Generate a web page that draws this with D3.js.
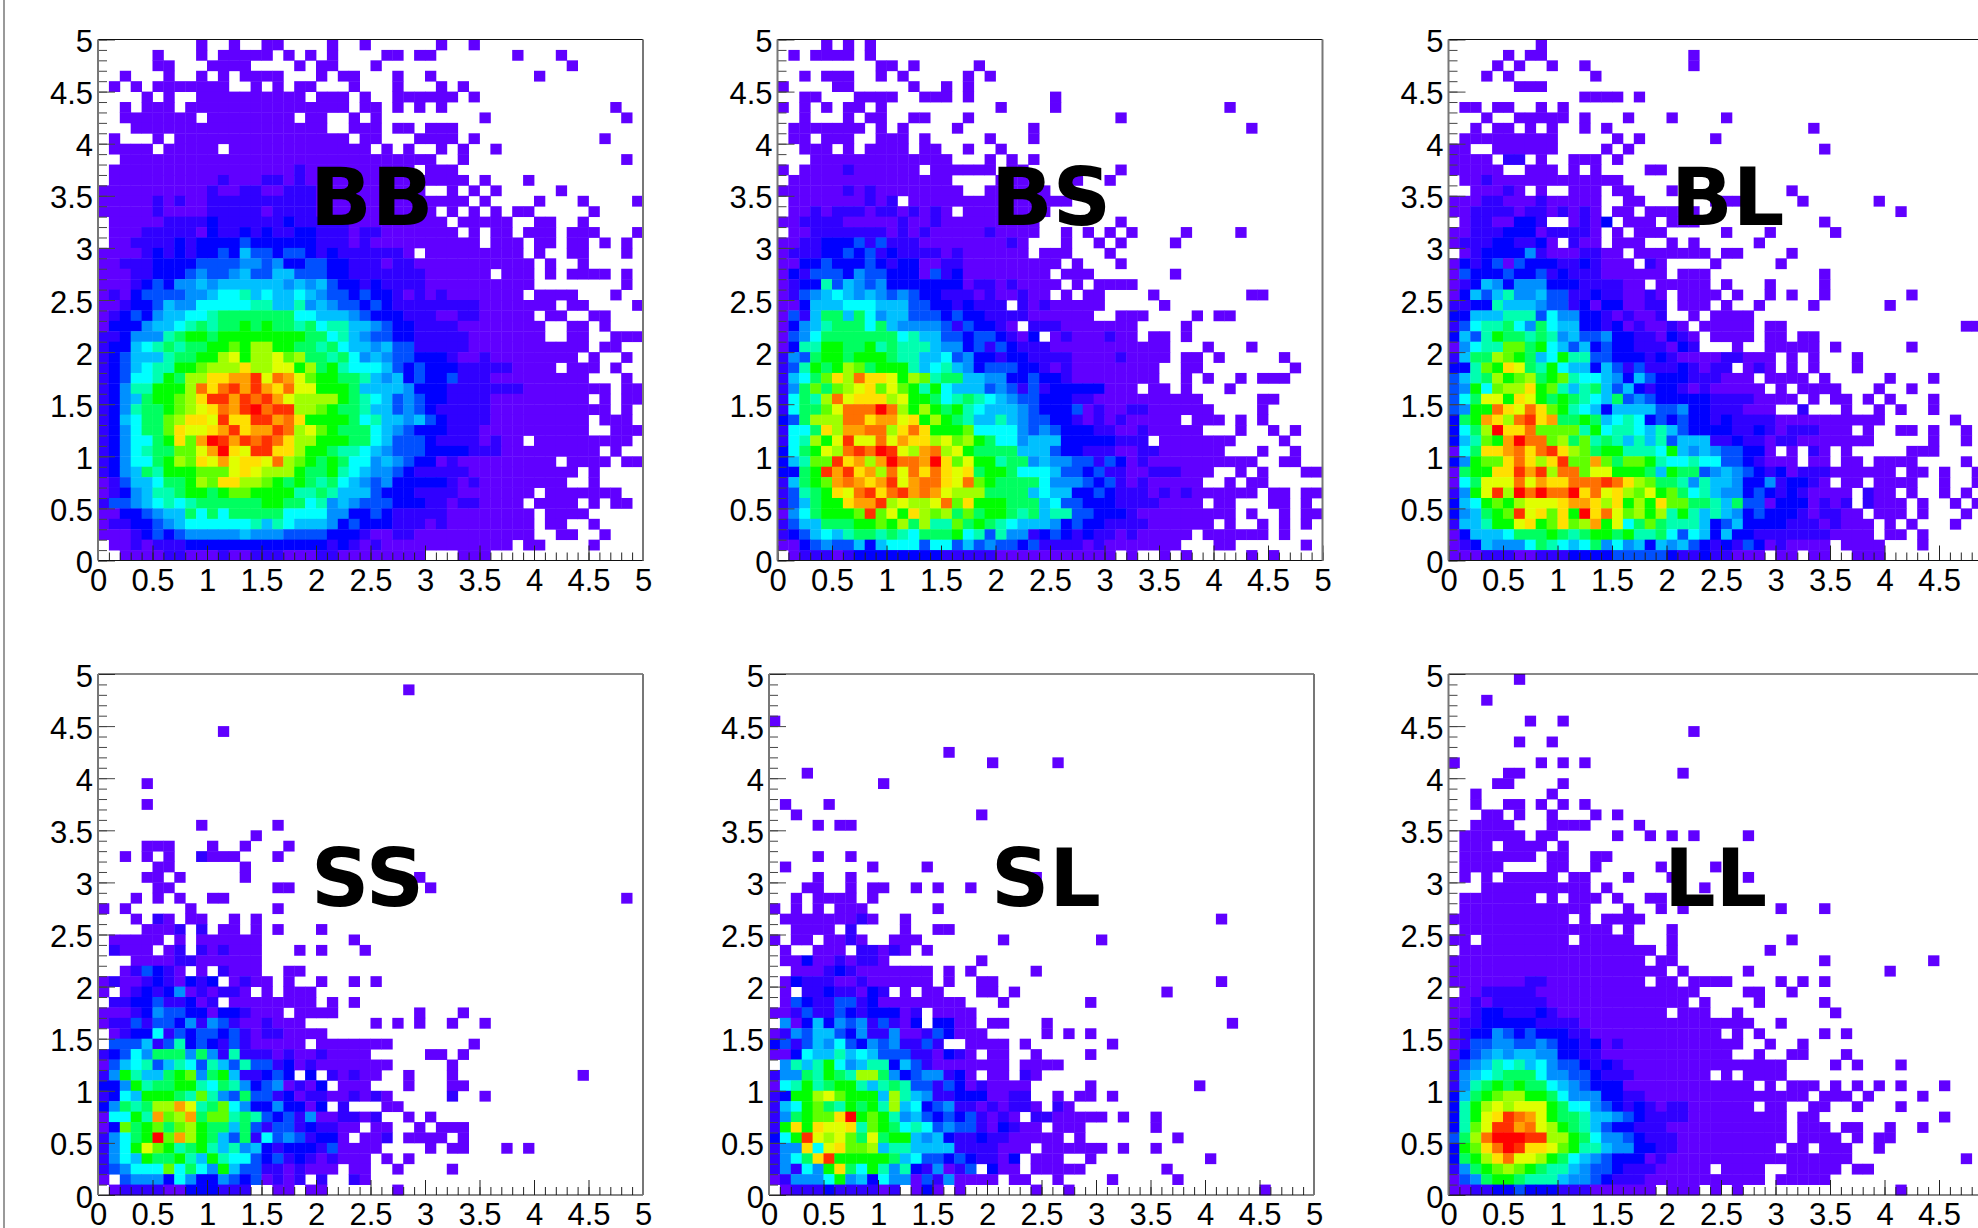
<!DOCTYPE html>
<html>
<head>
<meta charset="utf-8">
<script src="https://cdn.jsdelivr.net/npm/d3@7"></script>
<style>
  html, body { margin: 0; padding: 0; background: #fff; overflow: hidden; }
  .tick text { font-family: "Liberation Sans", Arial, sans-serif; fill: #000; }
</style>
</head>
<body>
<div id="graph"></div>
<script>
// rows run top (y=5) to bottom (y=0), 50 bins each way
// a..r = colour level 1..18, "." = empty bin, a number repeats the letter before it
var binsBB = [
".9a.2a.2a2.4a.2a.6a.2a.15",
".5a.3a.a5.a.a.a.4a2.a2.7a.3a.7",
".5a2.3a4.4a.a2.3a.17a.6",
".2a.3a.2a.a.a4.3a.a2.3a.2a.9a.9",
".a.a.a7.2a.a.a2.3a.3a.3a.a.16",
".4a.a.2a10.a3.a.2a6.a.15",
".2a.a3.a15.a2.a.a.a.15a.2",
".2a7.a8.a2.2a.a.9a.12a.",
".3a18.2a3.a2.a3.17",
".a.3a.a16.a2.3a4.a.11a.3",
".a4.a5.a13.a.a.2a.a.2a.13",
".2a29.2a.14a.",
".a17ba10.a3.17",
".a10ba3b2aba15.a.3a.10",
"a10ba2b2a2b3a10.2a.a.a.5a.7",
"a5baba2b10a14.a.4a.3a.4a",
"a5ba4b5ab4a11.a.a.a.a2.5a.4",
".a5b4cb6cb5a9.a5.2a2.2a.5",
".a3b5acb2cbcb2c2b3ab2a7.a.a2.a3.a3.3a",
".a2b4cbc4dc6b3aba10.a3.a2.a2.a.a.",
"a4bcbcbc2dcfd2cd2cbcb6a.a9.a.2a2.3a.",
"a2b3c4d4e2dec2d2c2b3ab2a11.a.2a.5",
"a3b2c3ded2efd2f2d3c2b7a6.a3.a.a4.a.",
"a3bcdce2fef6efefdc2bcb4a10.8a.",
"abacd4e2fg2hfgf2gfed2cdc2bababa7.a4.3a.2",
"a2bc2dfe2g5h2f2hefed2cdcb8a7.a2.4a",
"abcdcef2g2hi7g2f3edc3b3a2b2a5.a2.2a2.3",
"ac3ef2ghihi2jiji2high2f2edc2b4a8.2a2.a.3",
"b2ce3hij2ij8i2ghfed2c2b5a7.2a2.2a3",
"bc2fghihi2j2kjl2j2i2higf2efd2b5a11.a2.2",
"bcdf3hi2j2lmjl2mkli2higefed2c3ba2ba8.a.2a.",
"bcdfgh2j2kl3nl2m2jlijhg3fdcdc3b5a4.a3.a.2",
"bcdg2hjil2n2o2qmpomkj2i2hfefcdc2db3a9.3a.",
"bceh2j3lpnpqoqonpm2j3if4ec3b7a8.a2",
"bcefij2klnq2oqpqoml4jihgfdedc2b4a9.a.a2",
"bcehi2jklmnpoqrpq2l2kji2hf2dedcb5a11.a.",
"bcfgi2kln2mqn2q2opnj4ighf2efdcb4a9.a3.",
"bcegi2knm2noqno2qplmkji3gfedc3b3a10.2a3",
"bceg2ijnkorqoqpqpnl2j3i2gfd3cb4aba2.a9.",
"bceghi2k2mornmq2n2lj2ih2gfed3c4b3a9.a.2",
"bceg2ijlknmomn2mplkjijig2efedc2aba9.a4.a2",
"bcefihj3k3mnml3ji2jhgfe2dcb5a10.a.4",
"abdf2gi2jlkn2l2kjijihigfedec5baba8.2a.4",
"abcefh2ij2ijk2j4h2ihf3dc3b4a7.a7.2",
"bd2efghghi6j2i2ghefed3c3b2ab2a4.a4.a.a2.",
"a2c2def2igigi5g4e2c2dcb5a8.a4.5",
"ab2c2defg6hfhgf3ecdc3b3aba8.a2.2a.4",
"a3bcdcde5fe3d4c3ba2b2a11.2a2.2a.3",
".a2bab3c13bcbaba12.a2.4a.4",
".2a4b2a3ba2b3a3b2a8.3a3.14"
];
var binsBS = [
".4a.a.a.41",
".a.a4.a.41",
".9a2.a.5a.31",
".2a.a3.2a.a.5a.a.30",
"a.4a2.5a.2a.a.32",
".2a2.3a4.2a3.a.7a.24",
"a.a.a.a2.a.10a.4a.15a.8",
".2a.3a.a2.2a2.3a.13a.18",
".a7.a.a.4a.6a.19a.6",
".a2.a3.2a3.a.5a.3a.26",
".2a3.a.a4.a2.2a.2a.29",
".3a13.3a.a.a.26",
"a.a4ba6.a6.a2.8a.18",
".a15.4a4.3a.2a.19",
"a6baba8.2a6.25",
".a7bab.a15.23",
".a2bab3ab2ababa.a8.25",
"a2b4a5ba2ba9.7a.18",
".a2b7ababa5ba4.2a.a.a.a.4a.4a.7",
"a2b2c3dbdb3a8ba.3a.2a.a.4a.13",
"ab3c2dcdbcb4aba6.a3.3a.19",
"a2c2dc3dcbc2a2b2a9.a.3a.18",
"acbd3ced2c3adbca8.a3.7a.13",
"abc2hdfedec7ab2aba4.a.a4.17",
"abdefgfefededc2b3aba2ba2.a.a2.4a.8a2.5",
"a2cf3g3f3d2c2bcb3.baba5.5a.14",
"adbfi2figef2d3cdc2b4a6.2a3.4a.a2.8",
"acefhi3gife4dbdc2ba.b3a7.4a.12",
"adegi7ghf2d2cd2cbac.aba3ba2.a2.a.12",
"ach2j2i2jhih3fe2cdbdcb3a11.3a.3a.6",
"bedij2ij3ih2f2gdec2bc2b4a4ba4.a2.a.5a.3",
"bdhjijlkij3hfghfecd3c2baba8.2a2.8a.2",
"bfgiknlpn2mjlkhi2f2e2c2dc2ba8.2a.a.2a.a3.3",
"beikiklmnkmkjhjgf3dedbdbc5a3.a2.a.3a.8",
"bgihlpmn3lmj2ighihgfed2c3b2a10.5a2.4",
"bgi2kmp3rpljljijhgf3edc3daba2b2a6.4a.5",
"cdil3p2no2mnjljihf2hfed2c2bababa5.a3.a.a.5",
"bg2inlo2p2lnpnj3kg4ededc3b2a2ba5.3a.2a.a.2",
"bghljmqm2pmon2lmkljig2ef3c5b3.a7.4a.3",
"cgijmlpqprqmloplmji4f3dc2b3a2b2a6.3a.2a.2",
"cfhk2qnolorp2ornkmj2hi2efe2d2bdcaba10.2a2.2",
"c2ijqoqnolpmpnpnmnij2ig3fd2cdb2a2b3a3.2a.a.3a2",
"bfijkoponoqmop2nmpkji4ge3dcdbaba5.2a.a2.5",
"bdhijnmpqnpqopoml3i4fgf2c2dcb3ababa6.a2.a2",
"bdfij2no2qlml2mpknj3i3fgd2c3b4a4.a2.3a2.a.",
"aegij3kqkmjnlklikij2ihifh2d2c3ba9.a.2a.a2",
"bdf2i3j2kjlilh2kijihgf3ecdc2b4a6.a.2a.a.a.",
"bcdfgfhi2hihgi3jghdhe2bcdcbcb2aba5.a6.a.3",
"a2cded2fcfg3dg2dfded2cdb4aba7.3a2.6a.",
".ab3abc8b5a11.a.2a.a.5a.a.4"
];
var binsBL = [
".8a.41",
".5a.a2.13a.27",
".4a.a.2a.2a.9a.27",
".3a.a.7a.36",
".6a3.41",
".12a4.a.32",
".a2.a2.2a.a.39",
".3a.2a5.a.3a.3a.4a.24",
".2a.a2.a.a.2a.a.18a.16",
".a9.5a.a.6a.25",
"a2.2a6.4a.a.17a.15",
"a4.b2.a.2a3.a.34",
"a5.2a3.a.a.4a2.30",
".a2ba12.34",
".2a3ba.a.2a3.a2.3a.10a.18",
"a3b2a3ba5.2a2.6a3.5a.6a.10",
"a2b4ab2ababa.a2.a5.18a.8",
".ab2a2c2b.2abac.a3.a3.11a.15",
"a2b3c3ab4a.a.a3.5a.3a.5a.14",
"ab3c2b2ca.ba2.a3.2a.a.5a.21",
".abc4eba3b2a2.a7.a2.4a.18",
"acbcdadc3b2cba3.ba.4a.5a.19",
"adc3dc2dbcb3a6.a3.10a.15",
"abcfece3c3b4a2.a5.a.3a.4a.15",
"acfdfhe2fd2b2cb2a2ba.a4.a.2a.a.2a.7a.7",
"b2c2hf3ed2bcac2a2b2.a3.a.2a.4a.6a.9",
"c2f3h3dge2c2baba2b.2a.a4.22",
"bdgh2igeigf2c2bcaba2ba.a5.a2.16a2.",
"cfdhji2hihefd2ec2b2acba.a4.a2.a2.16",
"aegh2k2ijgfdfcdc2b3acb.3a.2a5.a.6a.7",
"bfi2lkjifgjh2d2c3bcba4b2a3.a.a.3a.12",
"c2hkjnmihjgf2cfdbdb3cbab2.aba.a.a.3a.12",
"dfhiljklijkhg2fecfdc3b3a3.a4.a.5a.3a.5",
"dejgkl2njkhfhifdfcbc2baba5.a.a4.3a.2a.7",
"dgim2jnmjijihgfidedc5b4a4.a.a2.a.a.3a.5",
"dej2pnmpnkjhgfcf4d2ec2b3a3.2b.3a.2a.a.2a.5",
"cijonlpqnoi2jifghgcdcdc2bcb4a10.6a.3",
"cgilrn2pk4hjgh2gfhfdc4b2cbab3a3.a.2a2.a.2a.2",
"cfhkjorp2klikhihfhfhdf3b2cb2ab2a7.5a.2a.2",
"agin2opnpqnlkij2h3gjfefed2c2a.a.ba.a.5a3.5",
"cejk2npnlnqk2okik2jhg2hg2d2cba3.a2.a2.a4.4a.2",
"aij2n2qoqlp2km2j3ifji2defedcbcab3a6.a2.a.2a.",
"agim3pmon2p3qpnlki2hehf2ec2ebc2ba.a2.a4.2a.2a.",
"bejmqlrprp2rnpmnlkmjkighfe2cdcbcba4.ba2.a.2a.a.2",
"cfgjkjlm3no2nlnjljnk2i2hfid2ac3abab.ba3.a.2a.a.",
"cefijkqmnknjrnpmkljlhjhfhfecdc3bab2a2.a3.a.3a.2",
"bf2hj2mnjknklojmgikih3fcdfc4b3aba3.a.a.3a.3",
"acf3gi3jihij2ijh2igdgfcfc2b7a4.a2.a.6",
"abcfe3gihgfgiegefcfefdcbcbdcaba4.a4.3a.6",
"a3b3a2b3c4d5cb2cb2a3.a2.a2.2a3.10"
];
var binsSS = [
".50",
".28a.21",
".50",
".50",
".50",
".11a.38",
".50",
".50",
".50",
".50",
".4a.45",
".50",
".4a.45",
".50",
".9a.6a.33",
".14a.35",
".4a3.3a.2a.3a.32",
".2a.a.a.2ba3.3a.33",
".5a2.6a.36",
".4a2.a.5a.15a.20",
".5a2.9a2.12a.19",
".3a.a.a.2a2.36a.",
"a.a.5a.7a.33",
".3a.ba.a2.2a.a.35",
".4a3b.b.a2.a.a.3a.29",
".a5.a.a6.8a.26",
".ba3.ab.baba3.3a.a.3a.25",
".3a4b2a6.35",
".2abdcba.a.ba3.2a2.31",
"aba2bcbacbc.aba2.a.2a.2a.a.24",
"a.abcbceabab2a.a.a3.30",
".b2c2db2cab.a8.a.a.26",
"a3bced2c2ac2ba3.a4.7a.3a.16",
"ab2dbd2cebedba2ba3.6a.a.a.2a.2a.14",
".abc2gbdcd2cdbab2a4.29",
".d3fbdhcdcbdba5.a7.7a.15",
"bcdgei3eiebhb3aba2ba4.5a2.a.16",
"adfghdfhgdhfdhd2bcaba7.5a.17",
"bejhf2ijkeijfb2cdc.c.baba2.2a.3a.11a.5",
"c2ejhi2j2hgihecdeabac.a3.3a.3a2.16",
"bcgfj3ihkhedid2bcab2a2baba.5b.2a.14",
"ceihil2omhikgec2ec2ac.b.3a2.22",
"ag2jhokloik2hihdcdbea2b2ab.2a.a.19",
"ackijkiklji2fidbd2bcb2a2.a2.2a.a3.16",
"begijrkoljifdibgdedbc2a.a2b.a4.a.16",
"begjmkjhijhfhefcbc3bda4.4a.a2.3a.a.10",
"begfji2jhfjhg2dcdbcbaba3.a.a.21",
"bdeg3kgigejfd2b2aba3.a2.2a.4a.17",
"a.de3cgec2edcdabab.b.2ba.25",
".ab4a2c3b3.2a2.a2.6a.22"
];
var binsSL = [
".50",
".50",
".50",
".50",
"a.49",
".50",
".50",
".16a.33",
".20a.5a.23",
".3a.46",
".10a.39",
".50",
".a.3a.44",
".2a.16a.30",
".4a.a2.42",
".50",
".50",
".4a.2a.42",
".a.7a.4a.35",
".4a.2a.16a.25",
".3a2.2a.a2.2a.a.2a.31",
".2a.a4.a.40",
"a.a.a.a3.6a.34",
".a7ba.2a.28a.8",
".2a4.b.4a.2a2.33",
"a.a2.a2ba.2a3.7a.8a.19",
".a.2a3.b2aba.a.35",
".a2ca2bab2a.8a.30",
".2a3bcba7.a.a.5a.25",
".acb3a2ba6.a.2a2.20a.8",
".a.b2cb2acb.a.a2.3a2.a.13a.13",
".adcb2d2bca8.3a.7a.20",
"a2bdb2dcbc3ab.a4.31",
".eacfcedebdbac.c2a2.a2.3a.16a.7",
"abedf2dceb2ea2bdca3.5a.a.a.20",
"cdbdfegdcedeb2db.2a4.a.7a.18",
"a2cgf2hfgfd3b2acba.a2.2a.4a.20",
".ehfhjgefh2cfdba7.a4.23",
"be2ihjihl2iecde2bca.a2.ba.25",
"aghjhij2hfhihd2bdcaba4.5a.9a.10",
"bcj2lmkj3flhfeb2c3a2b2.2a.a2.a.18",
"bfgjkihjijhlfgcdeb2abab2a.ba.22",
"beijk2nrjkjhefdcdcdbaba.b2a5.a.2a.14",
"bjnjnm2nhkjighgded2bacba2.a3.6a.14",
"cgjqmlmkimij2fefcb2cb2a5.a.8a.12",
"be2ngmnk2lfh2f4b4a3.a6.a.2a.14",
"beginqj5ifgd2cdcb2ac.a3.2a.10a.9",
"bebgejnigjhehcbeabd.ca2.a5.7a.13",
"abe3gjefcge2adbea4.a2.2a.4a.5a.12",
".ab3cb4ab.aca.a.6a.2a.17a.4"
];
var binsLL = [
".6a.43",
".50",
".3a.46",
".50",
".7a.2a.39",
".22a.27",
".6a.2a.40",
".50",
"a.7a.a.a.37",
".5a2.14a.28",
".4a2.4a.39",
".2a.6a.40",
".2a.2a2.a.a.a.37",
".3a2.a.2a.3a.a.34",
".2a4.3a4.4a.32",
".a6.a2.5a.2a.a.a.4a.22",
".a3.a4.a.39",
".a7.a2.2a2.35",
".a4.4a2.2a.5a.4a.25",
".a.a.a5.a2.3a.3a.6a.22",
".3a10.a.8a.26",
".a7.a.a3.a.2a2.30",
".a12.3a.2a.a.8a.3a.15",
"a11.a.a4.32",
".a14.a.3a.29",
"a2.a8.a5.3a.10a.18",
".a18.a.8a.20",
"a18.a2.13a.9a.5",
"a20.a.5a.12a.9",
"a7b2a9.a2.a4.4a.a.a.15",
".a2b5a15.4a2.2a.18",
"a2bab5a13.a.4a.5a.15",
"a2bc2b3cba10.a3.2a.8a.14",
"ab2c5b4a16.2a.19",
"abc2edcdc3b2a12.a.a.5a.a.13",
"abd2e2d2edc2bcaba11.2a.2a.17",
"acdefef2e2c2b2a12.2a.2a2.3a.13",
"bdefhghfged2cbcba15.4a.a.3a.8",
"befghi3ge2d2cb3a7.a.a4.19",
"behijiji2gfedc3a12.a.a3.a.a.a.a.3a.4",
"cfijkl2j2ige3c2b2a15.a3.a.4a.6",
"chjlmlm3jig2edcbcbab2a6.a2.2a2.2a.3a.8",
"chjmnqpomji2hf2edcb4a9.a2.11a.4",
"chkmq2opmljihfdc2b3a11.a3.a2.2a.2a.6",
"dilpr3q2l2jige2dcb3a10.a4.a.a2.9",
"cjknprqn2mkjh2fe2c2b2a9.a2.a3.2a.10",
"cijlnpm2ljigfedc3aba17.10a.2",
"beijklkjih2fed2cb3a5.a4.2a5.a2.11",
"adeij2ih3fe2dcb3a11.a5.15",
"a2b2c2dc3b3a6.a3.a.a.14a.8"
];

var names = ["BB", "BS", "BL", "SS", "SL", "LL"];
var allBins = [binsBB, binsBS, binsBL, binsSS, binsSL, binsLL];
var levels = "abcdefghijklmnopqr".split("");
var palette = ["#6000ff", "#3000ff", "#0000ff", "#0050ff", "#0090ff", "#00c0ff",
               "#00ffff", "#00ffb0", "#00ff60", "#00ff00", "#60ff00", "#a0ff00",
               "#e0ff00", "#ffe000", "#ffa000", "#ff7000", "#ff3000", "#ff0000"];
var majorTicks = [0, 0.5, 1, 1.5, 2, 2.5, 3, 3.5, 4, 4.5, 5];
var minorTicks = d3.range(0, 51).map(function(d){ return d / 10; });

// panel frames on the page
var w = 545, h = 521, nBin = 50;
var frames = [
  {left: 98,     top: 39.5, labelX: 310,  labelY: 225},
  {left: 777.5,  top: 39.5, labelX: 991,  labelY: 225},
  {left: 1448.5, top: 39.5, labelX: 1671, labelY: 225},
  {left: 98,     top: 674,  labelX: 311,  labelY: 906},
  {left: 769,    top: 674,  labelX: 991,  labelY: 906},
  {left: 1448.5, top: 674,  labelX: 1664, labelY: 906}
];

// "a3.2b" -> ["a","a","a",".",".","b"]
function decode(row){
    var out = [];
    row.replace(/([a-r.])(\d*)/g, function(m, c, n){
        for (var i = 0; i < (n ? +n : 1); i++) out.push(c);
    });
    return out;
}

var svg = d3.select("#graph")
            .append("svg")
            .attr("width", 1978)
            .attr("height", 1228);

svg.append("line")
    .attr("x1", 4).attr("x2", 4)
    .attr("y1", 0).attr("y2", 1228)
    .attr("stroke", "#777")
    .attr("stroke-width", 1.5);

var color = d3.scaleOrdinal().domain(levels).range(palette);

names.forEach(function(name, p){
    var f = frames[p];
    var x = d3.scaleLinear().domain([0, 5]).range([0, w]);
    var y = d3.scaleLinear().domain([0, 5]).range([h, 0]);
    var g = svg.append("g")
               .attr("transform", "translate(" + f.left + "," + f.top + ")");

    // turn rows into one record per filled bin
    var cells = [];
    allBins[p].forEach(function(row, r){
        decode(row).slice(0, nBin).forEach(function(c, i){
            if (c != ".") cells.push({i: i, j: nBin - 1 - r, c: c});
        });
    });

    g.selectAll("rect.bin")
        .data(cells)
        .enter()
        .append("rect")
        .attr("class", "bin")
        .attr("x", function(d){ return x(d.i / 10); })
        .attr("y", function(d){ return y((d.j + 1) / 10); })
        .attr("width", x(0.1) - x(0) + 0.4)
        .attr("height", y(0) - y(0.1) + 0.4)
        .attr("fill", function(d){ return color(d.c); });

    // minor ticks
    g.append("g")
        .attr("transform", "translate(0," + h + ")")
        .call(d3.axisBottom(x).tickValues(minorTicks).tickSize(-8).tickFormat(""))
        .call(function(a){
            a.select(".domain").remove();
            a.selectAll("line").attr("stroke", "#222");
        });
    g.append("g")
        .call(d3.axisLeft(y).tickValues(minorTicks).tickSize(-9).tickFormat(""))
        .call(function(a){
            a.select(".domain").remove();
            a.selectAll("line").attr("stroke", "#444");
        });

    // major ticks and labels
    g.append("g")
        .attr("transform", "translate(0," + h + ")")
        .call(d3.axisBottom(x).tickValues(majorTicks).tickSize(-15).tickPadding(8).tickFormat(String))
        .call(function(a){
            a.select(".domain").remove();
            a.selectAll("line").attr("stroke", "#222");
            a.selectAll("text").style("font-size", "31px");
        });
    g.append("g")
        .call(d3.axisLeft(y).tickValues(majorTicks).tickSize(-17).tickPadding(5).tickFormat(String))
        .call(function(a){
            a.select(".domain").remove();
            a.selectAll("line").attr("stroke", "#444");
            a.selectAll("text").attr("dy", "0.39em").style("font-size", "31px");
        });

    // frame: sides read grey and thicker, top and bottom thin and dark
    g.append("line").attr("x1", 0).attr("x2", w).attr("y1", 0).attr("y2", 0).attr("stroke", "#111");
    g.append("line").attr("x1", 0).attr("x2", w).attr("y1", h).attr("y2", h).attr("stroke", "#111");
    g.append("line").attr("x1", 0).attr("x2", 0).attr("y1", 0).attr("y2", h).attr("stroke", "#777").attr("stroke-width", 2);
    g.append("line").attr("x1", w).attr("x2", w).attr("y1", 0).attr("y2", h).attr("stroke", "#777").attr("stroke-width", 2);

    svg.append("text")
        .attr("x", f.labelX)
        .attr("y", f.labelY)
        .attr("font-family", "DejaVu Sans")
        .attr("font-weight", "bold")
        .attr("font-size", 81)
        .attr("fill", "#000")
        .text(name);
});
</script>
</body>
</html>
